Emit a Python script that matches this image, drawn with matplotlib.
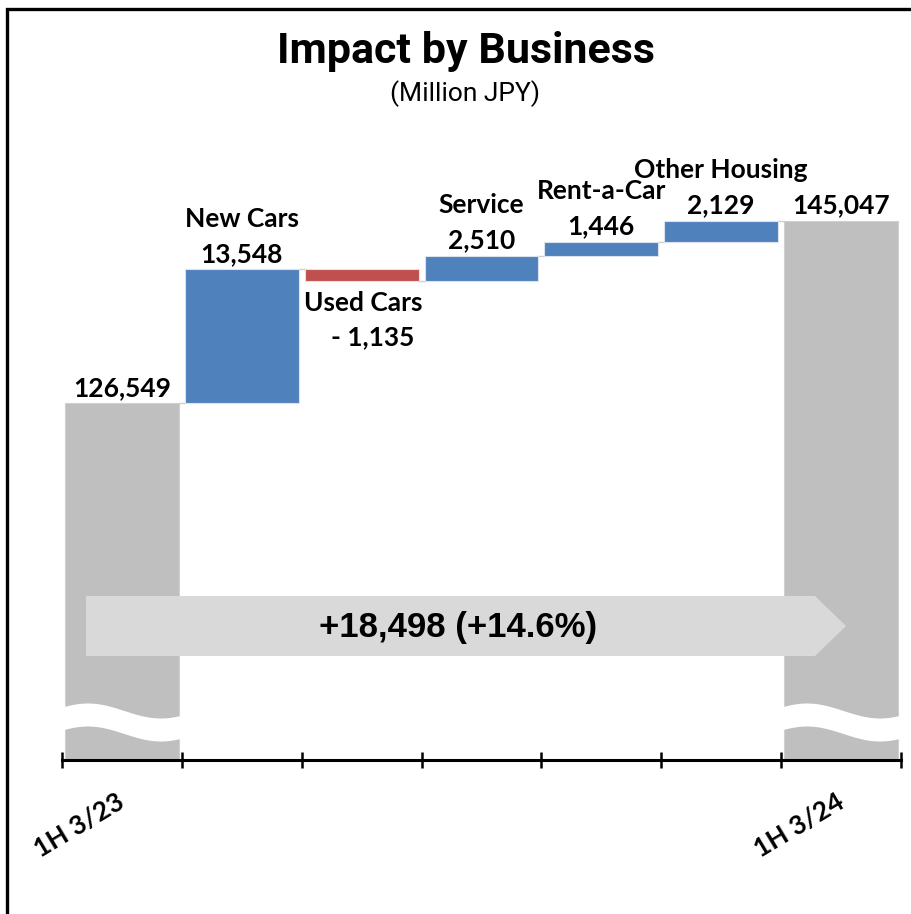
import numpy as np
import matplotlib
matplotlib.use("Agg")
import matplotlib.pyplot as plt
from matplotlib.patches import Polygon
from matplotlib.lines import Line2D
import matplotlib.transforms as mtransforms

# ---- data (Million JPY) ----
categories = ["1H 3/23", "New Cars", "Used Cars", "Service", "Rent-a-Car",
              "Other Housing", "1H 3/24"]
start_value = 126549
deltas = [13548, -1135, 2510, 1446, 2129]
end_value = 145047
tick_labels = ["1H 3/23", "", "", "", "", "", "1H 3/24"]

BLUE = "#4F81BD"
RED = "#C0504D"
GREY = "#BFBFBF"
ARROW = "#D9D9D9"

W, H = 911, 914
fig = plt.figure(figsize=(W / 100, H / 100), dpi=100)
fig.patch.set_facecolor("white")

# plot area (pixel geometry of the chart frame)
ax_left, ax_right, ax_bottom, ax_top = 62, 901, 760, 130
ax = fig.add_axes([ax_left / W, (H - ax_bottom) / H,
                   (ax_right - ax_left) / W, (ax_bottom - ax_top) / H])

units_per_px = 101.4
y0 = start_value - (ax_bottom - 403) * units_per_px
y1 = y0 + (ax_bottom - ax_top) * units_per_px
ax.set_ylim(y0, y1)
ax.set_xlim(-0.5, len(categories) - 0.5)

bar_w = 0.95
label_font = ["Lato", "DejaVu Sans"]
fs = 19

# totals
x_start, x_end = 0, len(categories) - 1
ax.bar(x_start, start_value - y0, bottom=y0, width=bar_w, color=GREY,
       edgecolor="#D0D0D0", linewidth=0.8, zorder=2)
ax.bar(x_end, end_value - y0, bottom=y0, width=bar_w, color=GREY,
       edgecolor="#D0D0D0", linewidth=0.8, zorder=2)

# floating steps
level = start_value
levels = [start_value]
for i, d in enumerate(deltas, start=1):
    lo, hi = min(level, level + d), max(level, level + d)
    col = BLUE if d >= 0 else RED
    ax.bar(i, hi - lo, bottom=lo, width=bar_w, color=col,
           edgecolor="#DCE3EE", linewidth=0.8, zorder=2)
    level += d
    levels.append(level)

# connectors between adjacent bars
for i, lv in enumerate(levels):
    ax.plot([i + bar_w / 2, i + 1 - bar_w / 2], [lv, lv], color="#D0D0D0",
            lw=1.0, zorder=1)

# value / name labels
def fmt(v):
    return f"{v:,}" if v >= 0 else f"- {abs(v):,}"

def label(text, xy, dy, dx=0):
    ax.annotate(text, xy, xytext=(dx, dy), textcoords="offset points",
                ha="center", va="center", fontsize=fs, fontweight="bold",
                family=label_font)

label(fmt(start_value), (x_start, start_value), 11)
label(fmt(end_value), (x_end, end_value), 11)

level = start_value
for i, d in enumerate(deltas, start=1):
    name = categories[i]
    if d >= 0:
        top = level + d
        label(fmt(d), (i, top), 11)
        label(name, (i, top), 36.5)
    else:
        bot = level + d
        label(name, (i, bot), -16, 1)
        label(fmt(d), (i, bot), -40.5, 8)
    level += d

# axis-break waves on the two total bars
trans = mtransforms.blended_transform_factory(ax.transData, ax.transAxes)
per_px_x = (len(categories)) / (ax_right - ax_left)
per_px_y = 1.0 / (ax_bottom - ax_top)
for xc in (x_start, x_end):
    xs = np.linspace(xc - 0.52, xc + 0.52, 120)
    px = (xs - (xc - bar_w / 2)) / per_px_x
    wave = 7.5 * np.cos(2 * np.pi * (px - 23) / 146)
    upper = (ax_bottom - 711 + wave) * per_px_y
    lower = (ax_bottom - 734 + wave) * per_px_y
    pts = np.column_stack([np.r_[xs, xs[::-1]], np.r_[upper, lower[::-1]]])
    ax.add_patch(Polygon(pts, closed=True, transform=trans,
                         facecolor="white", edgecolor="none", zorder=3))

# overall change arrow
diff = end_value - start_value
pct = diff / start_value * 100
ax_x0 = -0.5
def px2x(p):
    return ax_x0 + (p - ax_left) * per_px_x
def py2y(p):
    return (ax_bottom - p) * per_px_y
arrow_pts = [(px2x(86), py2y(596)), (px2x(815), py2y(596)),
             (px2x(846), py2y(626)), (px2x(815), py2y(656)),
             (px2x(86), py2y(656))]
ax.add_patch(Polygon(arrow_pts, closed=True, transform=trans,
                     facecolor=ARROW, edgecolor="none", zorder=4))
ax.text(px2x(458), py2y(628), f"+{diff:,} (+{pct:.1f}%)", transform=trans,
        ha="center", va="center", fontsize=25, fontweight="bold",
        family=["Liberation Sans", "DejaVu Sans"], zorder=5)

# axes styling
for s in ("left", "right", "top"):
    ax.spines[s].set_visible(False)
ax.spines["bottom"].set_linewidth(2.2)
ax.spines["bottom"].set_zorder(6)
ax.set_yticks([])
ax.set_xticks(np.arange(-0.5, len(categories), 1.0))
ax.set_xticklabels([])
ax.tick_params(axis="x", direction="inout", length=12, width=1.8)
ax.set_facecolor("none")

for i, lab in enumerate(tick_labels):
    if lab:
        ax.annotate(lab, (i, y0), xytext=(-4, -21), textcoords="offset points",
                    ha="right", va="top", rotation=31, rotation_mode="anchor",
                    fontsize=fs, fontweight="bold", family=label_font,
                    annotation_clip=False)

# titles
fig.text(466 / W, 1 - 52 / H, "Impact by Business", ha="center", va="center",
         fontsize=31, fontweight="bold", family=["Roboto", "DejaVu Sans"])
fig.text(465 / W, 1 - 94 / H, "(Million JPY)", ha="center", va="center",
         fontsize=19, family=["Roboto", "DejaVu Sans"])

# outer frame (left and top edges)
fx = 7 / W
fy = 1 - 9 / H
fig.add_artist(Line2D([fx, fx, 1.0], [0.0, fy, fy], transform=fig.transFigure,
                      color="black", lw=2.4, solid_joinstyle="miter"))

fig.savefig("out.png", dpi=100, facecolor="white")
